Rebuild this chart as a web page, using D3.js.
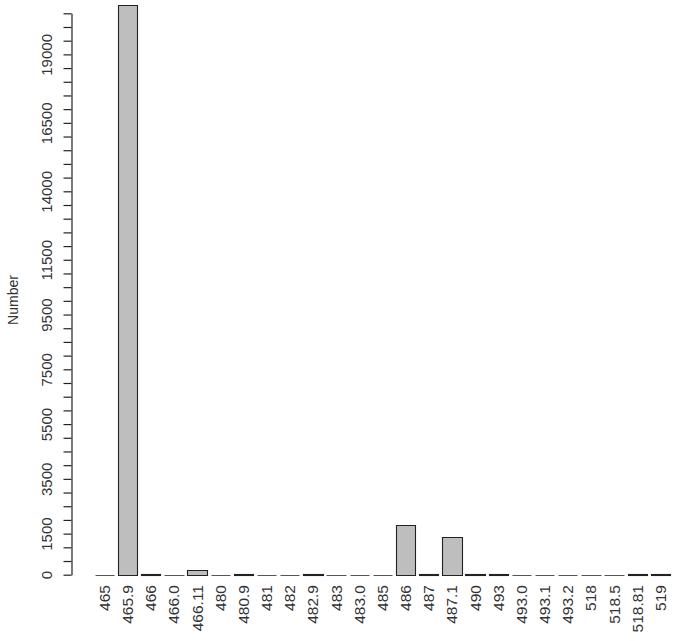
<!DOCTYPE html>
<html>
<head>
<meta charset="utf-8">
<script src="https://cdn.jsdelivr.net/npm/d3@7/dist/d3.min.js"></script>
<style>
  html, body { margin: 0; padding: 0; background: #fff; }
  svg { display: block; }
  text { font-family: "Liberation Sans", "DejaVu Sans", sans-serif; fill: #333; }
</style>
</head>
<body>
<svg id="chart" width="675" height="641"></svg>
<script>
const categories = ["465", "465.9", "466", "466.0", "466.11", "480", "480.9", "481", "482", "482.9", "483", "483.0", "485", "486", "487", "487.1", "490", "493", "493.0", "493.1", "493.2", "518", "518.5", "518.81", "519"];
const values = [0, 20800, 40, 0, 180, 0, 40, 0, 0, 40, 0, 0, 0, 1800, 40, 1380, 40, 40, 0, 0, 0, 0, 0, 40, 40];
const yTickValues = d3.range(0, 20501, 500);
const yTickLabels = [0, 1500, 3500, 5500, 7500, 9500, 11500, 14000, 16500, 19000];
const yTitle = "Number";

const svg = d3.select("#chart");
const y = d3.scaleLinear().domain([0, 20500]).range([574.7, 13.3]);
const x = d3.scaleBand().domain(categories).range([94.8, 670]).paddingInner(1 / 6).paddingOuter(0);

// bars (paths so zero-height bars still show a line)
svg.append("g").selectAll("path")
  .data(categories.map((c, i) => ({ c, v: values[i] })))
  .join("path")
  .attr("d", d => {
    const x0 = Math.round(x(d.c)) + 0.5;
    const x1 = Math.round(x(d.c) + x.bandwidth()) + 0.5;
    const y0 = Math.round(y(0)) + 0.5;
    const y1 = Math.round(y(d.v)) + 0.5;
    return `M${x0},${y0}V${y1}H${x1}V${y0}Z`;
  })
  .attr("fill", "#bebebe")
  .attr("stroke", d => d.v === 0 ? "#555" : "#222")
  .attr("stroke-width", 1.1);

// y axis
const axisX = 71.5;
const yAxis = d3.axisLeft(y).tickValues(yTickValues).tickSize(8).tickSizeOuter(0)
  .tickFormat(d => yTickLabels.includes(d) ? d : "");
const gy = svg.append("g").attr("transform", `translate(${axisX},0)`).call(yAxis);
gy.select(".domain").attr("stroke", "#222").attr("stroke-width", 1.2);
gy.selectAll(".tick line").attr("stroke", "#222").attr("stroke-width", 1.2);
gy.selectAll(".tick text")
  .attr("x", null).attr("dy", null)
  .attr("transform", "translate(-25,0) rotate(-90)")
  .attr("text-anchor", "middle")
  .attr("dominant-baseline", "central")
  .style("font-size", "15px")
  .style("fill", "#333");

// x labels
svg.append("g").selectAll("text")
  .data(categories)
  .join("text")
  .attr("transform", d => `translate(${x(d) + x.bandwidth() / 2},585) rotate(-90)`)
  .attr("text-anchor", "end")
  .attr("dominant-baseline", "central")
  .style("font-size", "15.5px")
  .text(d => d);

// y title
svg.append("text")
  .attr("transform", "translate(13,300) rotate(-90)")
  .attr("text-anchor", "middle")
  .attr("dominant-baseline", "central")
  .style("font-size", "14px")
  .text(yTitle);
</script>
</body>
</html>
